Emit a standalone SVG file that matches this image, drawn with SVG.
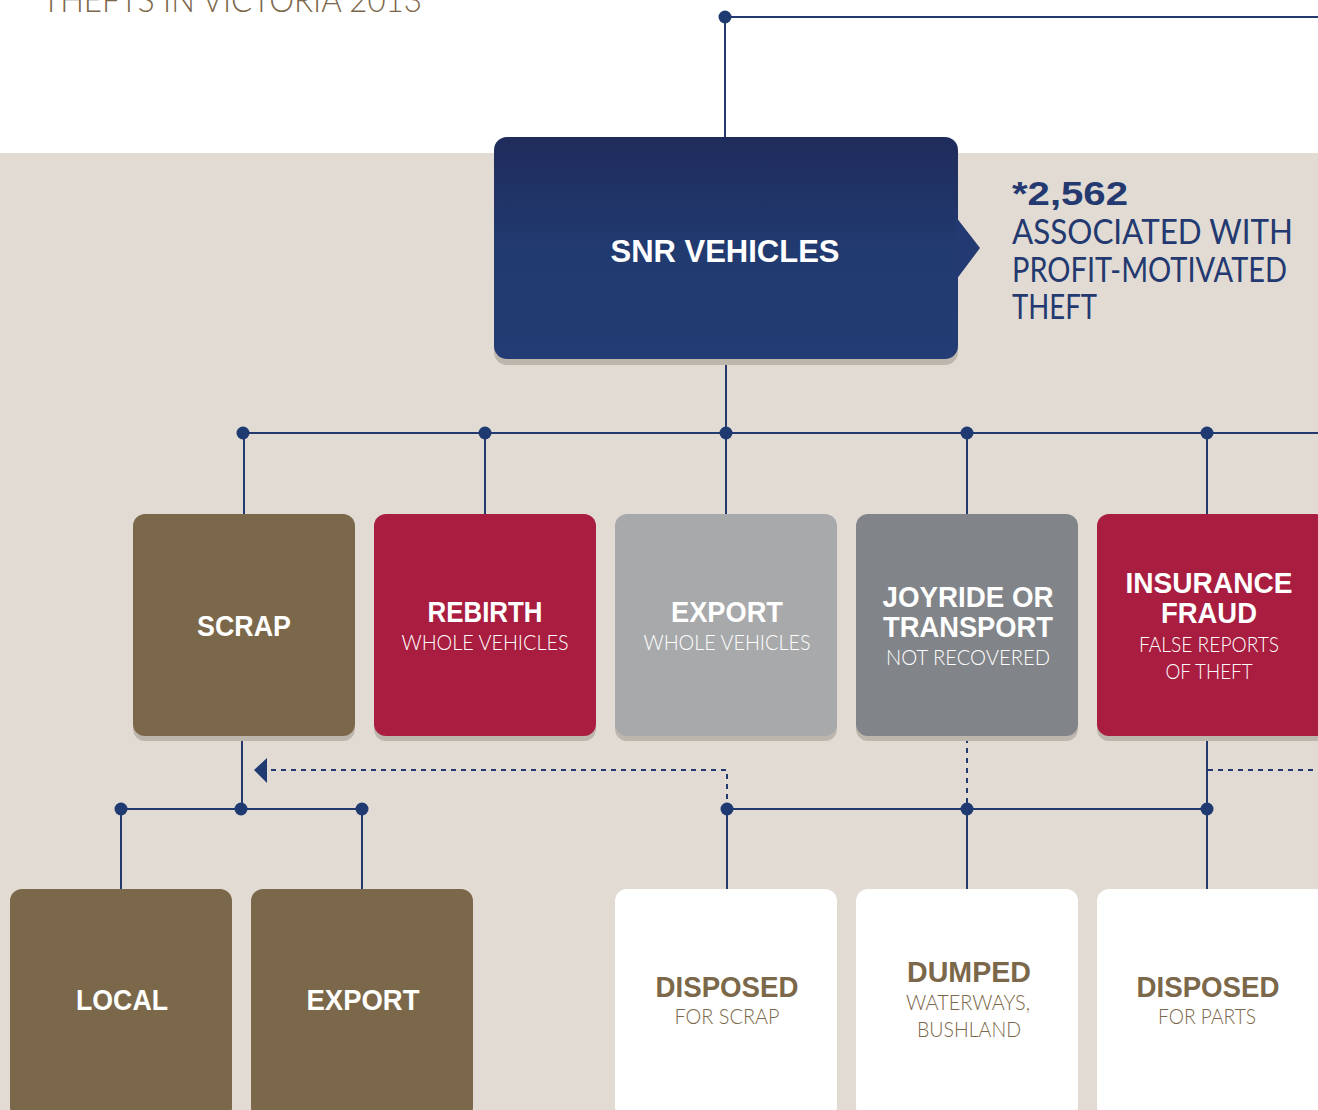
<svg xmlns="http://www.w3.org/2000/svg" width="1318" height="1110" viewBox="0 0 1318 1110">
<style>
.ln{stroke:#23396f;stroke-width:2;fill:none}
.dl{stroke:#23396f;stroke-width:2;fill:none;stroke-dasharray:5 5}
.dot{fill:#1f3a70}
.sh{fill:#bdb6ad}
.h{font-family:"Liberation Sans",Arial,sans-serif;font-weight:bold;fill:#fff;text-anchor:middle}
.s{font-family:"Lato","Liberation Sans",Arial,sans-serif;font-weight:300;fill:#fff;text-anchor:middle}
.hb{font-family:"Liberation Sans",Arial,sans-serif;font-weight:bold;fill:#7b6749;text-anchor:middle}
.sb{font-family:"Lato","Liberation Sans",Arial,sans-serif;font-weight:300;fill:#7b6749;text-anchor:middle}
.nv{font-family:"Lato","Liberation Sans",Arial,sans-serif;font-weight:400;fill:#23396f}
</style>
<defs>
<linearGradient id="gNavy" x1="0" y1="0" x2="0" y2="1">
<stop offset="0" stop-color="#1f2c5b"/>
<stop offset="0.5" stop-color="#213a70"/>
<stop offset="1" stop-color="#233d74"/>
</linearGradient>
</defs>
<rect x="0" y="0" width="1318" height="153" fill="#ffffff"/>
<rect x="0" y="153" width="1318" height="957" fill="#e1dbd4"/>
<text x="42" y="12" font-family="Lato,'Liberation Sans',Arial,sans-serif" font-weight="300" font-size="34" fill="#7b6749" textLength="380" lengthAdjust="spacingAndGlyphs">THEFTS IN VICTORIA 2013</text>

<g id="connectors">
<line class="ln" x1="725" y1="17" x2="1318" y2="17"/>
<line class="ln" x1="725" y1="17" x2="725" y2="138"/>
<line class="ln" x1="726" y1="360" x2="726" y2="433"/>
<line class="ln" x1="243" y1="433" x2="1318" y2="433"/>
<line class="ln" x1="244" y1="433" x2="244" y2="514"/>
<line class="ln" x1="485" y1="433" x2="485" y2="514"/>
<line class="ln" x1="726" y1="433" x2="726" y2="514"/>
<line class="ln" x1="967" y1="433" x2="967" y2="514"/>
<line class="ln" x1="1207" y1="433" x2="1207" y2="514"/>
<line class="ln" x1="242" y1="736" x2="242" y2="809"/>
<line class="ln" x1="121" y1="809" x2="362" y2="809"/>
<line class="ln" x1="121" y1="809" x2="121" y2="889"/>
<line class="ln" x1="362" y1="809" x2="362" y2="889"/>
<path class="dl" d="M727 809 V770 H266"/>
<polygon points="254,770 267,758 267,783" fill="#1f3a70"/>
<line class="dl" x1="967" y1="738" x2="967" y2="809"/>
<line class="ln" x1="1207" y1="736" x2="1207" y2="809"/>
<line class="dl" x1="1208" y1="770" x2="1318" y2="770"/>
<line class="ln" x1="727" y1="809" x2="1207" y2="809"/>
<line class="ln" x1="727" y1="809" x2="727" y2="889"/>
<line class="ln" x1="967" y1="809" x2="967" y2="889"/>
<line class="ln" x1="1207" y1="809" x2="1207" y2="889"/>
<circle class="dot" cx="725" cy="17" r="6.5"/>
<circle class="dot" cx="243" cy="433" r="6.5"/>
<circle class="dot" cx="485" cy="433" r="6.5"/>
<circle class="dot" cx="726" cy="433" r="6.5"/>
<circle class="dot" cx="967" cy="433" r="6.5"/>
<circle class="dot" cx="1207" cy="433" r="6.5"/>
<circle class="dot" cx="121" cy="809" r="6.5"/>
<circle class="dot" cx="241" cy="809" r="6.5"/>
<circle class="dot" cx="362" cy="809" r="6.5"/>
<circle class="dot" cx="727" cy="809" r="6.5"/>
<circle class="dot" cx="967" cy="809" r="6.5"/>
<circle class="dot" cx="1207" cy="809" r="6.5"/>
</g>

<g id="snr">
<rect class="sh" x="494" y="143" width="464" height="222" rx="13"/>
<rect x="494" y="137" width="464" height="222" rx="13" fill="url(#gNavy)"/>
<polygon points="956,217 980,248 956,280" fill="#223a71"/>
<text class="h" x="725" y="262" font-size="32" textLength="229" lengthAdjust="spacingAndGlyphs">SNR VEHICLES</text>
</g>

<g id="snr-note">
<text x="1012" y="205" font-family="'Liberation Sans',Arial,sans-serif" font-weight="bold" font-size="34" fill="#23396f" textLength="116" lengthAdjust="spacingAndGlyphs">*2,562</text>
<text class="nv" x="1012" y="244" font-size="34" textLength="281" lengthAdjust="spacingAndGlyphs">ASSOCIATED WITH</text>
<text class="nv" x="1012" y="282" font-size="34" textLength="275" lengthAdjust="spacingAndGlyphs">PROFIT-MOTIVATED</text>
<text class="nv" x="1012" y="319" font-size="34" textLength="85" lengthAdjust="spacingAndGlyphs">THEFT</text>
</g>

<g id="scrap">
<rect class="sh" x="133" y="519" width="222" height="222" rx="12"/>
<rect x="133" y="514" width="222" height="222" rx="12" fill="#7b6749"/>
<text class="h" x="244" y="636" font-size="29" textLength="94" lengthAdjust="spacingAndGlyphs">SCRAP</text>
</g>

<g id="rebirth">
<rect class="sh" x="374" y="519" width="222" height="222" rx="12"/>
<rect x="374" y="514" width="222" height="222" rx="12" fill="#a91d40"/>
<text class="h" x="485" y="622" font-size="29" textLength="115" lengthAdjust="spacingAndGlyphs">REBIRTH</text>
<text class="s" x="485" y="650" font-size="22" textLength="167" lengthAdjust="spacingAndGlyphs">WHOLE VEHICLES</text>
</g>

<g id="export-whole">
<rect class="sh" x="615" y="519" width="222" height="222" rx="12"/>
<rect x="615" y="514" width="222" height="222" rx="12" fill="#a8a9ab"/>
<text class="h" x="727" y="622" font-size="29" textLength="112" lengthAdjust="spacingAndGlyphs">EXPORT</text>
<text class="s" x="727" y="650" font-size="22" textLength="167" lengthAdjust="spacingAndGlyphs">WHOLE VEHICLES</text>
</g>

<g id="joyride">
<rect class="sh" x="856" y="519" width="222" height="222" rx="12"/>
<rect x="856" y="514" width="222" height="222" rx="12" fill="#818488"/>
<text class="h" x="968" y="607" font-size="29" textLength="171" lengthAdjust="spacingAndGlyphs">JOYRIDE OR</text>
<text class="h" x="968" y="637" font-size="29" textLength="170" lengthAdjust="spacingAndGlyphs">TRANSPORT</text>
<text class="s" x="968" y="665" font-size="22" textLength="164" lengthAdjust="spacingAndGlyphs">NOT RECOVERED</text>
</g>

<g id="insurance">
<rect class="sh" x="1097" y="519" width="230" height="222" rx="12"/>
<rect x="1097" y="514" width="230" height="222" rx="12" fill="#a91d40"/>
<text class="h" x="1209" y="593" font-size="29" textLength="167" lengthAdjust="spacingAndGlyphs">INSURANCE</text>
<text class="h" x="1209" y="623" font-size="29" textLength="96" lengthAdjust="spacingAndGlyphs">FRAUD</text>
<text class="s" x="1209" y="652" font-size="22" textLength="140" lengthAdjust="spacingAndGlyphs">FALSE REPORTS</text>
<text class="s" x="1209" y="679" font-size="22" textLength="87" lengthAdjust="spacingAndGlyphs">OF THEFT</text>
</g>

<g id="local">
<rect class="sh" x="10" y="894" width="222" height="230" rx="12"/>
<rect x="10" y="889" width="222" height="230" rx="12" fill="#7b6749"/>
<text class="h" x="122" y="1010" font-size="29" textLength="92" lengthAdjust="spacingAndGlyphs">LOCAL</text>
</g>

<g id="export">
<rect class="sh" x="251" y="894" width="222" height="230" rx="12"/>
<rect x="251" y="889" width="222" height="230" rx="12" fill="#7b6749"/>
<text class="h" x="363" y="1010" font-size="29" textLength="113" lengthAdjust="spacingAndGlyphs">EXPORT</text>
</g>

<g id="disposed-scrap">
<rect class="sh" x="615" y="894" width="222" height="230" rx="12"/>
<rect x="615" y="889" width="222" height="230" rx="12" fill="#ffffff"/>
<text class="hb" x="727" y="997" font-size="29" textLength="143" lengthAdjust="spacingAndGlyphs">DISPOSED</text>
<text class="sb" x="727" y="1024" font-size="22" textLength="105" lengthAdjust="spacingAndGlyphs">FOR SCRAP</text>
</g>

<g id="dumped">
<rect class="sh" x="856" y="894" width="222" height="230" rx="12"/>
<rect x="856" y="889" width="222" height="230" rx="12" fill="#ffffff"/>
<text class="hb" x="969" y="982" font-size="29" textLength="124" lengthAdjust="spacingAndGlyphs">DUMPED</text>
<text class="sb" x="968" y="1010" font-size="22" textLength="124" lengthAdjust="spacingAndGlyphs">WATERWAYS,</text>
<text class="sb" x="969" y="1037" font-size="22" textLength="104" lengthAdjust="spacingAndGlyphs">BUSHLAND</text>
</g>

<g id="disposed-parts">
<rect class="sh" x="1097" y="894" width="230" height="230" rx="12"/>
<rect x="1097" y="889" width="230" height="230" rx="12" fill="#ffffff"/>
<text class="hb" x="1208" y="997" font-size="29" textLength="143" lengthAdjust="spacingAndGlyphs">DISPOSED</text>
<text class="sb" x="1207" y="1024" font-size="22" textLength="98" lengthAdjust="spacingAndGlyphs">FOR PARTS</text>
</g>
</svg>
